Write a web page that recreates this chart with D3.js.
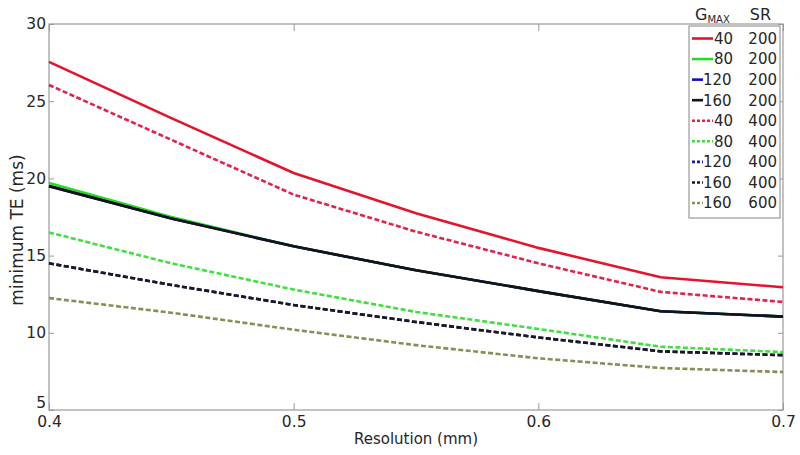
<!DOCTYPE html>
<html>
<head>
<meta charset="utf-8">
<script src="https://cdn.jsdelivr.net/npm/d3@7"></script>
<style>
  body { margin: 0; background: white; }
  text { font-family: "DejaVu Sans", sans-serif; fill: #262626; }
</style>
</head>
<body>
<svg id="chart" width="800" height="455"></svg>
<script>
// resolution (mm) on the x axis
const resolution = [0.4, 0.45, 0.5, 0.55, 0.6, 0.65, 0.7]

// minimum TE (ms), one array per Gmax / SR pair
const te_40_200  = [27.55, 23.9, 20.35, 17.75, 15.5, 13.6, 12.95]
const te_80_200  = [19.7, 17.5, 15.6, 14.05, 12.7, 11.4, 11.05]
const te_120_200 = [19.5, 17.4, 15.6, 14.05, 12.7, 11.4, 11.05]
const te_160_200 = [19.5, 17.4, 15.6, 14.05, 12.7, 11.4, 11.05]
const te_40_400  = [26.05, 22.5, 18.95, 16.55, 14.5, 12.65, 12.0]
const te_80_400  = [16.5, 14.5, 12.8, 11.35, 10.25, 9.1, 8.75]
const te_120_400 = [14.5, 13.1, 11.8, 10.7, 9.7, 8.8, 8.55]
const te_160_400 = [14.5, 13.1, 11.8, 10.7, 9.7, 8.8, 8.55]
const te_160_600 = [12.25, 11.3, 10.2, 9.2, 8.35, 7.72, 7.46]

const gmaxLabels = ['40', '80', '120', '160', '40', '80', '120', '160', '160']
const srLabels   = ['200', '200', '200', '200', '400', '400', '400', '400', '600']

const xTicks = [0.4, 0.5, 0.6, 0.7]
const yTicks = [5, 10, 15, 20, 25, 30]

const colors = ['#e5142d', '#22dd22', '#1010c8', '#141414', '#e3224a', '#3ee03e', '#1a1a9a', '#1a1a1a', '#8c8c58']
const dashed = [false, false, false, false, true, true, true, true, true]

const series = [te_40_200, te_80_200, te_120_200, te_160_200, te_40_400, te_80_400, te_120_400, te_160_400, te_160_600]
  .map((vals, i) => ({
    gmax: gmaxLabels[i],
    sr: srLabels[i],
    color: colors[i],
    dashed: dashed[i],
    points: vals.map((v, j) => [resolution[j], v])
  }))

const svg = d3.select('#chart')
const pLeft = 49, pRight = 783, pTop = 24, pBottom = 410

const x = d3.scaleLinear().domain([0.4, 0.7]).range([pLeft, pRight])
const y = d3.scaleLinear().domain([5, 30]).range([pBottom, pTop])

svg.append('rect').attr('width', 800).attr('height', 455).attr('fill', 'white')

// axes with inward ticks like matlab
const gx = svg.append('g').attr('transform', `translate(0,${pBottom})`)
  .call(d3.axisBottom(x).tickValues(xTicks).tickSizeInner(-7).tickSizeOuter(0).tickPadding(6).tickFormat(d3.format('.1f')))
const gxTop = svg.append('g').attr('transform', `translate(0,${pTop})`)
  .call(d3.axisTop(x).tickValues(xTicks).tickSizeInner(-7).tickSizeOuter(0).tickFormat(''))
const gy = svg.append('g').attr('transform', `translate(${pLeft},0)`)
  .call(d3.axisLeft(y).tickValues(yTicks).tickSizeInner(-5).tickSizeOuter(0).tickPadding(3))
const gyRight = svg.append('g').attr('transform', `translate(${pRight},0)`)
  .call(d3.axisRight(y).tickValues(yTicks).tickSizeInner(-5).tickSizeOuter(0).tickFormat(''))

;[gx, gxTop, gy, gyRight].forEach(g => {
  g.select('.domain').remove()
  g.selectAll('.tick line').attr('stroke', '#9a9a9a')
  g.selectAll('text').style('font-size', '15.5px').attr('fill', '#262626')
})

// the lowest y label sits just above the 0.4 label, as in the original
gy.selectAll('.tick text').filter(d => d === 5).attr('dy', '-0.15em')

svg.append('rect')
  .attr('x', pLeft).attr('y', pTop)
  .attr('width', pRight - pLeft).attr('height', pBottom - pTop)
  .attr('fill', 'none').attr('stroke', '#9a9a9a').attr('stroke-width', 1.2)

const line = d3.line().x(d => x(d[0])).y(d => y(d[1]))

svg.append('g').selectAll('path')
  .data(series)
  .join('path')
  .attr('d', d => line(d.points))
  .attr('fill', 'none')
  .attr('stroke', d => d.color)
  .attr('stroke-width', 2.6)
  .attr('stroke-dasharray', d => d.dashed ? '5,2.5' : null)

svg.append('text')
  .attr('x', (pLeft + pRight) / 2).attr('y', 444)
  .attr('text-anchor', 'middle')
  .style('font-size', '15px')
  .text('Resolution (mm)')

svg.append('text')
  .attr('transform', 'translate(23,230) rotate(-90)')
  .attr('text-anchor', 'middle')
  .style('font-size', '17px')
  .text('minimum TE (ms)')

// legend
const lg = svg.append('g')
const rowY = d3.scaleLinear().domain([0, 8]).range([38.5, 203])

lg.append('rect')
  .attr('x', 689).attr('y', 26).attr('width', 91).attr('height', 192)
  .attr('fill', 'white').attr('stroke', '#9a9a9a').attr('stroke-width', 1.2)

const head = lg.append('text').attr('x', 695).attr('y', 20).style('font-size', '16px')
head.append('tspan').text('G')
head.append('tspan').attr('dy', 3).style('font-size', '10px').text('MAX')
lg.append('text').attr('x', 771).attr('y', 20).attr('text-anchor', 'end').style('font-size', '16px').text('SR')

const rows = lg.selectAll('g.row')
  .data(series)
  .join('g')
  .attr('class', 'row')
  .attr('transform', (d, i) => `translate(0,${rowY(i)})`)

rows.append('line')
  .attr('x1', 692)
  .attr('x2', d => d.gmax.length > 2 ? 703 : 713)
  .attr('stroke', d => d.color)
  .attr('stroke-width', 2.6)
  .attr('stroke-dasharray', d => d.dashed ? '3,2' : null)

rows.append('text')
  .attr('x', d => d.gmax.length > 2 ? 703 : 714)
  .attr('dy', '0.36em')
  .style('font-size', '15px')
  .text(d => d.gmax)

rows.append('text')
  .attr('x', 777)
  .attr('dy', '0.36em')
  .attr('text-anchor', 'end')
  .style('font-size', '15px')
  .text(d => d.sr)
</script>
</body>
</html>
